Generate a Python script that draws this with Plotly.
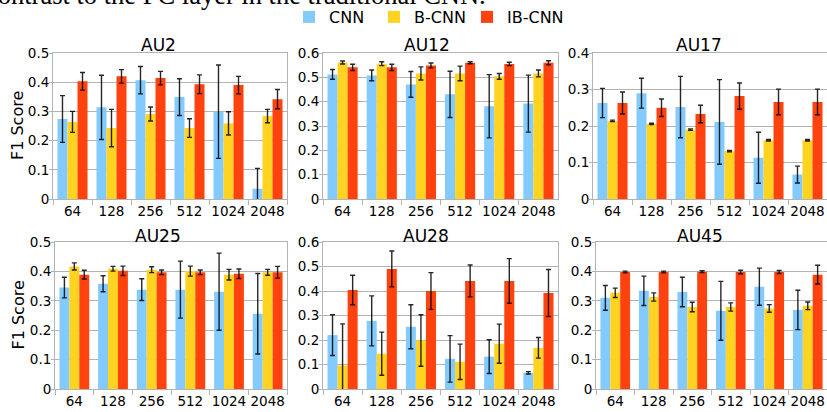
import plotly.graph_objects as go

sizes = ["64", "128", "256", "512", "1024", "2048"]
series_names = ["CNN", "B-CNN", "IB-CNN"]
series_colors = ["#83CAFF", "#FFD320", "#FF420E"]

au2_cnn = [0.274, 0.314, 0.407, 0.349, 0.299, 0.035]
au2_cnn_err = [0.080, 0.110, 0.047, 0.063, 0.160, 0.070]
au2_bcnn = [0.264, 0.243, 0.291, 0.243, 0.259, 0.284]
au2_bcnn_err = [0.036, 0.064, 0.024, 0.032, 0.040, 0.023]
au2_ibcnn = [0.403, 0.420, 0.414, 0.393, 0.390, 0.342]
au2_ibcnn_err = [0.030, 0.023, 0.023, 0.032, 0.030, 0.033]

au12_cnn = [0.512, 0.508, 0.471, 0.430, 0.381, 0.392]
au12_cnn_err = [0.020, 0.022, 0.053, 0.095, 0.130, 0.117]
au12_bcnn = [0.561, 0.556, 0.516, 0.516, 0.504, 0.516]
au12_bcnn_err = [0.006, 0.008, 0.027, 0.030, 0.012, 0.014]
au12_ibcnn = [0.541, 0.541, 0.549, 0.560, 0.555, 0.560]
au12_ibcnn_err = [0.013, 0.013, 0.010, 0.004, 0.007, 0.008]

au17_cnn = [0.263, 0.290, 0.252, 0.211, 0.113, 0.067]
au17_cnn_err = [0.040, 0.041, 0.084, 0.116, 0.070, 0.023]
au17_bcnn = [0.214, 0.206, 0.190, 0.131, 0.161, 0.161]
au17_bcnn_err = [0.002, 0.002, 0.002, 0.002, 0.002, 0.002]
au17_ibcnn = [0.263, 0.250, 0.233, 0.282, 0.266, 0.266]
au17_ibcnn_err = [0.030, 0.024, 0.024, 0.036, 0.035, 0.035]

au25_cnn = [0.345, 0.358, 0.338, 0.338, 0.331, 0.256]
au25_cnn_err = [0.035, 0.027, 0.037, 0.097, 0.131, 0.137]
au25_bcnn = [0.417, 0.409, 0.406, 0.401, 0.389, 0.397]
au25_bcnn_err = [0.012, 0.008, 0.010, 0.017, 0.018, 0.010]
au25_ibcnn = [0.389, 0.402, 0.397, 0.397, 0.392, 0.397]
au25_ibcnn_err = [0.015, 0.016, 0.008, 0.008, 0.016, 0.020]

au28_cnn = [0.220, 0.278, 0.254, 0.123, 0.132, 0.066]
au28_cnn_err = [0.083, 0.102, 0.090, 0.095, 0.069, 0.005]
au28_bcnn = [0.096, 0.144, 0.198, 0.111, 0.185, 0.168]
au28_bcnn_err = [0.170, 0.088, 0.105, 0.072, 0.080, 0.042]
au28_ibcnn = [0.404, 0.490, 0.400, 0.441, 0.441, 0.392]
au28_ibcnn_err = [0.060, 0.073, 0.075, 0.065, 0.091, 0.096]

au45_cnn = [0.310, 0.334, 0.330, 0.266, 0.348, 0.269]
au45_cnn_err = [0.042, 0.050, 0.050, 0.100, 0.063, 0.067]
au45_bcnn = [0.327, 0.313, 0.279, 0.279, 0.274, 0.283]
au45_bcnn_err = [0.016, 0.014, 0.016, 0.014, 0.013, 0.013]
au45_ibcnn = [0.398, 0.398, 0.399, 0.398, 0.398, 0.389]
au45_ibcnn_err = [0.003, 0.003, 0.003, 0.006, 0.005, 0.032]

panel_titles = ["AU2", "AU12", "AU17", "AU25", "AU28", "AU45"]
panel_ymax = [0.5, 0.6, 0.4, 0.5, 0.6, 0.5]
panel_data = [
    [(au2_cnn, au2_cnn_err), (au2_bcnn, au2_bcnn_err), (au2_ibcnn, au2_ibcnn_err)],
    [(au12_cnn, au12_cnn_err), (au12_bcnn, au12_bcnn_err), (au12_ibcnn, au12_ibcnn_err)],
    [(au17_cnn, au17_cnn_err), (au17_bcnn, au17_bcnn_err), (au17_ibcnn, au17_ibcnn_err)],
    [(au25_cnn, au25_cnn_err), (au25_bcnn, au25_bcnn_err), (au25_ibcnn, au25_ibcnn_err)],
    [(au28_cnn, au28_cnn_err), (au28_bcnn, au28_bcnn_err), (au28_ibcnn, au28_ibcnn_err)],
    [(au45_cnn, au45_cnn_err), (au45_bcnn, au45_bcnn_err), (au45_ibcnn, au45_ibcnn_err)],
]

W, H = 827, 412
# plot-area pixel boxes (left, right, top, bottom)
boxes = [
    (53, 287, 53, 199), (323, 558, 53, 199), (593, 827, 53, 199),
    (55, 287, 242, 389), (323, 558, 242, 389), (596, 827, 242, 389),
]
# title centres in pixels (x, y)
title_pos = [(158, 45), (427, 45), (699, 45), (158, 236), (426, 236), (700, 236)]
legend_left = [289, 374, 467]

FONT = "DejaVu Sans"
GRID = "#b3b3b3"
legend_ids = ["legend", "legend2", "legend3"]

fig = go.Figure()
layout = dict(
    width=W, height=H, margin=dict(l=0, r=0, t=0, b=0, autoexpand=False),
    paper_bgcolor="white", plot_bgcolor="white",
    barmode="group", bargap=0.23, bargroupgap=0,
    font=dict(family=FONT, size=13, color="#000"),
    showlegend=True,
)
for lid, lx in zip(legend_ids, legend_left):
    layout[lid] = dict(orientation="h", x=lx / W, y=1 - 17 / H, xanchor="left",
                       yanchor="middle", font=dict(family=FONT, size=16), itemwidth=30,
                       bgcolor="rgba(0,0,0,0)", borderwidth=0)

annotations = []
for i, (title, ymax, data, box) in enumerate(zip(panel_titles, panel_ymax, panel_data, boxes)):
    k = "" if i == 0 else str(i + 1)
    l, r, t, b = box
    xd = [l / W, min(r / W, 1.0)]
    yd = [1 - b / H, 1 - t / H]
    for j, (vals, errs) in enumerate(data):
        fig.add_trace(go.Bar(
            x=sizes, y=vals, name=series_names[j], marker_color=series_colors[j],
            marker_line_width=0, legendgroup=series_names[j], showlegend=(i == 0),
            legend=legend_ids[j],
            error_y=dict(type="data", array=errs, visible=True, color="rgba(0,0,0,0.85)",
                         thickness=1.4, width=2.5),
            xaxis="x" + k, yaxis="y" + k,
        ))
    layout["xaxis" + k] = dict(
        domain=xd, anchor="y" + k, type="category", showline=True, mirror=True,
        linecolor=GRID, linewidth=1, ticks="outside", tickson="boundaries", ticklen=5,
        tickcolor=GRID, showgrid=False, tickfont=dict(family=FONT, size=13.5),
        tickangle=0, automargin=False, fixedrange=True,
    )
    layout["yaxis" + k] = dict(
        domain=yd, anchor="x" + k, range=[0, ymax], dtick=0.1, tickformat="~g",
        showline=True, mirror=True, linecolor=GRID, linewidth=1, ticks="outside",
        ticklen=3, tickcolor=GRID, showgrid=True, gridcolor=GRID, gridwidth=1,
        zeroline=False, tickfont=dict(family=FONT, size=13.5), automargin=False,
        ticklabelstandoff=-3, fixedrange=True,
    )
    tx, ty = title_pos[i]
    annotations.append(dict(
        text=title, x=tx / W, y=1 - ty / H, xref="paper", yref="paper",
        xanchor="center", yanchor="middle", showarrow=False,
        font=dict(family=FONT, size=17, color="#000"),
    ))
    if i in (0, 3):
        annotations.append(dict(
            text="F1 Score", x=18 / W, y=1 - (t + b) / 2 / H, xref="paper", yref="paper",
            xanchor="center", yanchor="middle", showarrow=False, textangle=-90,
            font=dict(family=FONT, size=16, color="#000"),
        ))

annotations.append(dict(
    text="contrast to the FC layer in the traditional CNN.", x=488 / W, y=1 + 5 / H,
    xref="paper", yref="paper", xanchor="right", yanchor="middle", showarrow=False,
    font=dict(family="Liberation Serif", size=26.5, color="#000"),
))
layout["annotations"] = annotations
fig.update_layout(**layout)
fig.write_html("out.html", config={"displayModeBar": False},
               post_script="document.body.style.margin='0';")
